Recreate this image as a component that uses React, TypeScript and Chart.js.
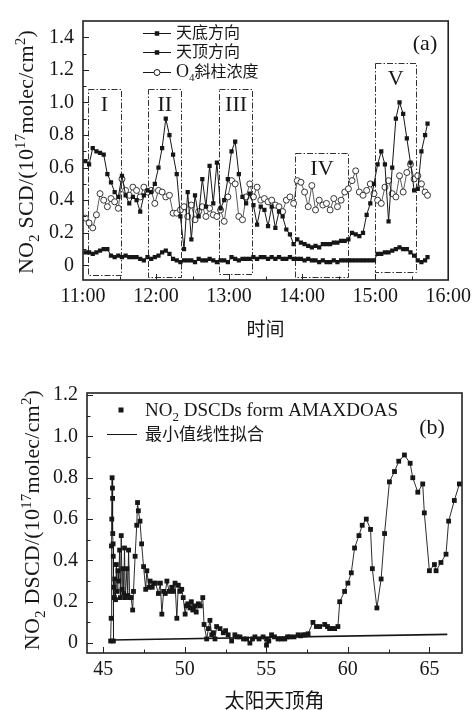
import React, { useEffect, useRef } from 'react';
import { Chart, registerables } from 'chart.js';
Chart.register(...registerables);

// ---------- Panel (a) data: minutes after 11:00 ----------
const timeMin = [
  2, 5, 8, 11, 14, 17, 20, 23, 26, 29,
  32, 35, 38, 41, 44, 47, 50, 53, 56, 59,
  62, 65, 68, 71, 74, 77, 80, 83, 86, 89,
  92, 95, 98, 101, 104, 107, 110, 113, 116, 119,
  122, 125, 128, 131, 134, 137, 140, 143, 146, 149,
  152, 155, 158, 161, 164, 167, 170, 173, 176, 179,
  182, 185, 188, 191, 194, 197, 200, 203, 206, 209,
  212, 215, 218, 221, 224, 227, 230, 233, 236, 239,
  242, 245, 248, 251, 254, 257, 260, 263, 266, 269,
  272, 275, 278, 281, 283,
];
// 天底方向 (nadir) NO2 SCD
const nadirSCD = [
  0.64, 0.62, 0.72, 0.70, 0.69, 0.68, 0.56, 0.51, 0.45, 0.42,
  0.55, 0.43, 0.38, 0.42, 0.40, 0.33, 0.43, 0.46, 0.45, 0.50,
  0.60, 0.72, 0.90, 0.80, 0.68, 0.56, 0.30, 0.10, 0.45, 0.16,
  0.43, 0.30, 0.53, 0.36, 0.61, 0.38, 0.63, 0.35, 0.40, 0.53,
  0.70, 0.76, 0.56, 0.42, 0.38, 0.44, 0.37, 0.25, 0.36, 0.34,
  0.24, 0.36, 0.23, 0.33, 0.30, 0.22, 0.19, 0.13, 0.16, 0.14,
  0.13, 0.12, 0.11, 0.12, 0.11, 0.13, 0.13, 0.13, 0.14, 0.14,
  0.15, 0.15, 0.16, 0.20, 0.19, 0.18, 0.20, 0.31, 0.38, 0.50,
  0.62, 0.70, 0.62, 0.27, 0.60, 0.90, 1.00, 0.93, 0.78, 0.63,
  0.46, 0.47, 0.70, 0.80, 0.87,
];
// 天顶方向 (zenith) NO2 SCD
const zenithSCD = [
  0.08, 0.08, 0.07, 0.08, 0.09, 0.10, 0.10, 0.06, 0.05, 0.06,
  0.05, 0.06, 0.05, 0.05, 0.05, 0.04, 0.03, 0.05, 0.04, 0.05,
  0.06, 0.08, 0.09, 0.07, 0.04, 0.03, 0.02, 0.03, 0.03, 0.03,
  0.02, 0.04, 0.03, 0.03, 0.04, 0.03, 0.02, 0.03, 0.03, 0.02,
  0.05, 0.04, 0.03, 0.04, 0.04, 0.04, 0.05, 0.04, 0.05, 0.05,
  0.04, 0.05, 0.04, 0.05, 0.04, 0.04, 0.05, 0.04, 0.04, 0.04,
  0.03, 0.04, 0.03, 0.03, 0.02, 0.03, 0.02, 0.02, 0.03, 0.02,
  0.03, 0.03, 0.03, 0.03, 0.03, 0.03, 0.03, 0.03, 0.03, 0.03,
  0.07, 0.07, 0.08, 0.08, 0.09, 0.10, 0.11, 0.10, 0.10, 0.08,
  0.06, 0.03, 0.02, 0.03, 0.05,
];
// O4 斜柱浓度
const o4SCD = [
  0.29, 0.26, 0.23, 0.31, 0.44, 0.40, 0.36, 0.41, 0.39, 0.35,
  0.53, 0.46, 0.43, 0.48, 0.46, 0.42, 0.48, 0.45, 0.46, 0.38,
  0.46, 0.45, 0.42, 0.43, 0.32, 0.32, 0.34, 0.36, 0.30, 0.37,
  0.28, 0.33, 0.36, 0.30, 0.35, 0.31, 0.30, 0.34, 0.27, 0.42,
  0.52, 0.50, 0.30, 0.28, 0.42, 0.50, 0.42, 0.48, 0.40, 0.41,
  0.39, 0.40, 0.37, 0.36, 0.33, 0.40, 0.42, 0.38, 0.52, 0.51,
  0.45, 0.36, 0.49, 0.34, 0.40, 0.37, 0.38, 0.34, 0.41, 0.36,
  0.40, 0.45, 0.47, 0.52, 0.58, 0.45, 0.43, 0.46, 0.50, 0.44,
  0.40, 0.38, 0.48, 0.52, 0.44, 0.42, 0.55, 0.45, 0.57, 0.62,
  0.53, 0.55, 0.50, 0.45, 0.43,
];
const xTicksA = [0, 60, 120, 180, 240, 300];
const xMinorA = [30, 90, 150, 210, 270];
const yTicksA = [0, 0.2, 0.4, 0.6, 0.8, 1.0, 1.2, 1.4];
const yMinorA = [0.1, 0.3, 0.5, 0.7, 0.9, 1.1, 1.3];
const boxLabels = ['I', 'II', 'III', 'IV', 'V'];
const boxStart = [4, 53.5, 112, 174.5, 240];
const boxEnd = [31, 81, 139.5, 218, 273.5];
const boxTop = [1.08, 1.08, 1.08, 0.69, 1.24];
const boxBottom = [-0.06, -0.072, -0.055, -0.072, -0.045];

// ---------- Panel (b) data ----------
const sza = [
  45.45, 45.48, 45.50, 45.52, 45.54, 45.56, 45.57, 45.58, 45.60, 45.61,
  45.62, 45.65, 45.68, 45.70, 45.75, 45.80, 45.85, 45.90, 45.95, 46.00,
  46.05, 46.10, 46.15, 46.20, 46.25, 46.30, 46.35, 46.45, 46.50, 46.55,
  46.62, 46.70, 46.80, 46.85, 46.95, 47.05, 47.10, 47.15, 47.25, 47.35,
  47.47, 47.60, 47.67, 47.80, 47.87, 48.00, 48.10, 48.20, 48.38, 48.50,
  48.59, 48.70, 48.80, 48.90, 49.04, 49.20, 49.30, 49.40, 49.51, 49.60,
  49.70, 49.81, 49.90, 50.02, 50.10, 50.18, 50.32, 50.40, 50.49, 50.60,
  50.70, 50.83, 50.95, 51.10, 51.18, 51.34, 51.45, 51.54, 51.65, 51.75,
  51.85, 51.95, 52.16, 52.36, 52.50, 52.66, 52.87, 53.07, 53.20, 53.38,
  53.60, 53.79, 53.99, 54.15, 54.30, 54.55, 54.80, 55.01, 55.05, 55.15,
  55.32, 55.50, 55.72, 55.90, 56.13, 56.30, 56.44, 56.70, 56.95, 57.10,
  57.25, 57.40, 57.56, 57.86, 58.07, 58.27, 58.58, 58.75, 58.88, 59.05,
  59.19, 59.39, 59.50, 59.80, 60.00, 60.21, 60.41, 60.68, 60.88, 61.13,
  61.39, 61.50, 61.78, 62.04, 62.25, 62.55, 62.86, 63.12, 63.47, 63.82,
  63.98, 64.29, 64.59, 64.69, 65.00, 65.31, 65.41, 65.71, 66.02, 66.18,
  66.53, 66.84,
];
const dscd = [
  0.01, 0.12, 0.47, 0.60, 0.80, 0.75, 0.70, 0.53, 0.48, 0.42,
  0.01, 0.27, 0.22, 0.31, 0.21, 0.38, 0.25, 0.35, 0.30, 0.45,
  0.22, 0.52, 0.26, 0.36, 0.24, 0.46, 0.22, 0.36, 0.23, 0.45,
  0.22, 0.22, 0.16, 0.25, 0.42, 0.57, 0.68, 0.64, 0.59, 0.48,
  0.37, 0.26, 0.35, 0.27, 0.30, 0.27, 0.29, 0.29, 0.24, 0.29,
  0.14, 0.25, 0.24, 0.30, 0.25, 0.27, 0.25, 0.29, 0.12, 0.28,
  0.25, 0.26, 0.22, 0.14, 0.18, 0.19, 0.17, 0.20, 0.16, 0.18,
  0.15, 0.19, 0.18, 0.22, 0.09, 0.02, 0.07, 0.11, 0.04, 0.05,
  0.02, 0.08, 0.07, 0.05, 0.06, 0.04, 0.01, 0.04, 0.03, 0.03,
  0.02, 0.02, 0.00, 0.02, 0.03, 0.02, 0.03, -0.01, 0.02, 0.01,
  0.04, 0.03, 0.02, 0.02, 0.02, 0.03, 0.03, 0.03, 0.04, 0.035,
  0.04, 0.04, 0.045, 0.10, 0.08, 0.08, 0.09, 0.08, 0.07, 0.07,
  0.07, 0.08, 0.20, 0.25, 0.29, 0.34, 0.46, 0.52, 0.57, 0.60,
  0.55, 0.36, 0.17, 0.31, 0.53, 0.78, 0.83, 0.88, 0.91, 0.87,
  0.80, 0.73, 0.77, 0.63, 0.35, 0.38, 0.35, 0.39, 0.43, 0.59,
  0.69, 0.77,
];
const fitSza = [45.5, 66.1];
const fitDscd = [0.015, 0.042];
const xTicksB = [45, 50, 55, 60, 65];
const xMinorB = [47.5, 52.5, 57.5, 62.5];
const yTicksB = [0, 0.2, 0.4, 0.6, 0.8, 1.0, 1.2];
const yMinorB = [0.1, 0.3, 0.5, 0.7, 0.9, 1.1];

// ---------- drawing helpers ----------
const SERIF = '"Liberation Serif", "Times New Roman", serif';
const CJK = '"Noto Sans CJK SC", sans-serif';
const INK = '#161616';

type Seg = { t: string; sub?: boolean; sup?: boolean; cjk?: boolean; size?: number };

function drawRich(ctx: CanvasRenderingContext2D, segs: Seg[], x: number, y: number, size: number,
  opts: { rotate?: boolean; align?: 'left' | 'center'; spacing?: number } = {}) {
  ctx.save();
  ctx.translate(x, y);
  if (opts.rotate) ctx.rotate(-Math.PI / 2);
  const small = Math.round(size * 0.68);
  const fontOf = (s: Seg) => `${s.sub || s.sup ? small : (s.size || size)}px ${s.cjk ? CJK : SERIF}`;
  (ctx as any).letterSpacing = `${opts.spacing || 0}px`;
  const widths = segs.map((s) => { ctx.font = fontOf(s); return ctx.measureText(s.t).width; });
  const total = widths.reduce((a, b) => a + b, 0);
  let cx = opts.align === 'left' ? 0 : -total / 2;
  ctx.textBaseline = 'alphabetic';
  ctx.textAlign = 'left';
  ctx.fillStyle = INK;
  segs.forEach((s, i) => {
    ctx.font = fontOf(s);
    const dy = s.sub ? size * 0.24 : s.sup ? -size * 0.4 : 0;
    ctx.fillText(s.t, cx, size * 0.34 + dy);
    cx += widths[i];
  });
  ctx.restore();
}

function drawFrameTicks(chart: any, xMaj: number[], xMin: number[], yMaj: number[], yMin: number[]) {
  const { ctx, chartArea: a } = chart;
  const xs = chart.scales.x, ys = chart.scales.y;
  ctx.save();
  ctx.strokeStyle = '#222';
  ctx.lineWidth = 1;
  ctx.beginPath();
  const xt = (v: number, len: number) => { const p = Math.round(xs.getPixelForValue(v)) + 0.5; if (p <= a.left + 1 || p >= a.right - 1) return; ctx.moveTo(p, a.bottom); ctx.lineTo(p, a.bottom - len); };
  const yt = (v: number, len: number) => { const p = Math.round(ys.getPixelForValue(v)) + 0.5; if (p <= a.top + 1 || p >= a.bottom - 1) return; ctx.moveTo(a.left, p); ctx.lineTo(a.left + len, p); };
  xMaj.forEach((v) => xt(v, 6));
  xMin.forEach((v) => xt(v, 3.5));
  yMaj.forEach((v) => yt(v, 6));
  yMin.forEach((v) => yt(v, 3.5));
  ctx.stroke();
  ctx.lineWidth = 1.6;
  ctx.strokeRect(a.left, a.top, a.right - a.left, a.bottom - a.top);
  ctx.restore();
}

function square(ctx: CanvasRenderingContext2D, x: number, y: number, s: number) {
  ctx.fillStyle = INK;
  ctx.fillRect(x - s / 2, y - s / 2, s, s);
}

const panelAPlugin = {
  id: 'panelA',
  beforeDatasetsDraw(chart: any) {
    const { ctx } = chart;
    const xs = chart.scales.x, ys = chart.scales.y;
    ctx.save();
    ctx.strokeStyle = '#333';
    ctx.lineWidth = 1;
    ctx.setLineDash([6, 2, 1.5, 2]);
    boxLabels.forEach((lab, i) => {
      const x0 = xs.getPixelForValue(boxStart[i]);
      const x1 = xs.getPixelForValue(boxEnd[i]);
      const y0 = ys.getPixelForValue(boxTop[i]);
      const y1 = ys.getPixelForValue(boxBottom[i]);
      ctx.strokeRect(Math.round(x0) + 0.5, Math.round(y0) + 0.5, Math.round(x1 - x0), Math.round(y1 - y0));
      ctx.font = `22px ${SERIF}`;
      ctx.fillStyle = INK;
      ctx.textAlign = 'center';
      ctx.textBaseline = 'middle';
      ctx.fillText(lab, (x0 + x1) / 2, y0 + 16);
    });
    ctx.restore();
  },
  afterDraw(chart: any) {
    const { ctx } = chart;
    drawFrameTicks(chart, xTicksA, xMinorA, yTicksA, yMinorA);
    // legend
    ctx.save();
    ctx.strokeStyle = INK;
    ctx.lineWidth = 1;
    const rows = [33, 52, 72];
    rows.forEach((ry, i) => {
      ctx.beginPath();
      ctx.moveTo(143, ry + 0.5);
      ctx.lineTo(171, ry + 0.5);
      ctx.stroke();
      if (i < 2) square(ctx, 157, ry + 0.5, 4.5);
      else {
        ctx.beginPath();
        ctx.arc(157, ry + 0.5, 3, 0, Math.PI * 2);
        ctx.fillStyle = '#fff';
        ctx.fill();
        ctx.stroke();
      }
    });
    ctx.restore();
    drawRich(ctx, [{ t: '天底方向', cjk: true }], 176, rows[0], 16, { align: 'left' });
    drawRich(ctx, [{ t: '天顶方向', cjk: true }], 176, rows[1], 16, { align: 'left' });
    drawRich(ctx, [{ t: 'O', size: 18 }, { t: '4', sub: true }, { t: '斜柱浓度', cjk: true }], 176, rows[2], 16, { align: 'left' });
    drawRich(ctx, [{ t: '(a)' }], 425, 43, 22);
    drawRich(ctx, [{ t: 'NO' }, { t: '2', sub: true }, { t: ' SCD/(10' }, { t: '17', sup: true }, { t: 'molec/cm' }, { t: '2', sup: true }, { t: ')' }],
      26, 152, 22, { rotate: true, spacing: 0.2 });
  },
};

const panelBPlugin = {
  id: 'panelB',
  afterDraw(chart: any) {
    const { ctx } = chart;
    drawFrameTicks(chart, xTicksB, xMinorB, yTicksB, yMinorB);
    square(ctx, 121, 60, 5);
    ctx.save();
    ctx.strokeStyle = INK;
    ctx.lineWidth = 1;
    ctx.beginPath();
    ctx.moveTo(107, 84.5);
    ctx.lineTo(137, 84.5);
    ctx.stroke();
    ctx.restore();
    drawRich(ctx, [{ t: 'NO' }, { t: '2', sub: true }, { t: ' DSCDs form AMAXDOAS' }], 145, 60, 19, { align: 'left' });
    drawRich(ctx, [{ t: '最小值线性拟合', cjk: true }], 145, 84, 17, { align: 'left' });
    drawRich(ctx, [{ t: '(b)' }], 432, 77, 22);
    drawRich(ctx, [{ t: 'NO' }, { t: '2', sub: true }, { t: ' DSCD/(10' }, { t: '17', sup: true }, { t: 'molec/cm' }, { t: '2', sup: true }, { t: ')' }],
      32, 170, 22, { rotate: true, spacing: 0.2 });
  },
};

const tickFont = { family: SERIF, size: 20 };
const fmtY = (v: any) => (Number(v) === 0 ? '0' : Number(v).toFixed(1));

function makeConfigA(): any {
  return {
    type: 'line',
    data: {
      datasets: [
        {
          label: '天底方向',
          data: timeMin.map((t, i) => ({ x: t, y: nadirSCD[i] })),
          borderColor: INK, borderWidth: 1, backgroundColor: INK,
          pointStyle: 'rect', pointRadius: 3, pointBorderWidth: 0, tension: 0, order: 1,
        },
        {
          label: '天顶方向',
          data: timeMin.map((t, i) => ({ x: t, y: zenithSCD[i] })),
          borderColor: INK, borderWidth: 1, backgroundColor: INK,
          pointStyle: 'rect', pointRadius: 3, pointBorderWidth: 0, tension: 0, order: 2,
        },
        {
          label: 'O4斜柱浓度',
          data: timeMin.map((t, i) => ({ x: t, y: o4SCD[i] })),
          borderColor: '#333', borderWidth: 0.8,
          pointStyle: 'circle', pointRadius: 3, pointBackgroundColor: '#fff',
          pointBorderColor: '#222', pointBorderWidth: 0.9, tension: 0, order: 3,
        },
      ],
    },
    options: {
      responsive: false, maintainAspectRatio: false, animation: false,
      layout: { padding: { top: 17, right: 22, left: 0, bottom: 0 } },
      plugins: { legend: { display: false }, tooltip: { enabled: false } },
      scales: {
        x: {
          type: 'linear', min: 0, max: 300,
          grid: { display: false, drawTicks: false }, border: { display: false },
          afterBuildTicks: (s: any) => { s.ticks = xTicksA.map((v) => ({ value: v })); },
          afterFit: (s: any) => { s.height = 70; },
          ticks: { padding: 5, font: tickFont, color: INK, maxRotation: 0, autoSkip: false,
            callback: (v: any) => `${11 + Number(v) / 60}:00` },
          title: { display: true, text: '时间', color: INK,
            font: { family: CJK, size: 19, lineHeight: 1.2 }, padding: { top: 0, bottom: 10 } },
        },
        y: {
          type: 'linear', min: -0.09, max: 1.5,
          grid: { display: false, drawTicks: false }, border: { display: false },
          afterBuildTicks: (s: any) => { s.ticks = yTicksA.map((v) => ({ value: v })); },
          afterFit: (s: any) => { s.width = 83; },
          ticks: { padding: 9, font: tickFont, color: INK, autoSkip: false, callback: fmtY },
        },
      },
    },
    plugins: [panelAPlugin],
  };
}

function makeConfigB(): any {
  return {
    type: 'line',
    data: {
      datasets: [
        {
          label: 'NO2 DSCDs form AMAXDOAS',
          data: sza.map((z, i) => ({ x: z, y: dscd[i] })),
          borderColor: INK, borderWidth: 0.9, backgroundColor: INK,
          pointStyle: 'rect', pointRadius: 3.4, pointBorderWidth: 0, tension: 0, order: 1,
        },
        {
          label: '最小值线性拟合',
          data: fitSza.map((z, i) => ({ x: z, y: fitDscd[i] })),
          borderColor: INK, borderWidth: 1.6, pointRadius: 0, tension: 0, order: 2,
        },
      ],
    },
    options: {
      responsive: false, maintainAspectRatio: false, animation: false,
      layout: { padding: { top: 43, right: 14, left: 0, bottom: 0 } },
      plugins: { legend: { display: false }, tooltip: { enabled: false } },
      scales: {
        x: {
          type: 'linear', min: 44, max: 67,
          grid: { display: false, drawTicks: false }, border: { display: false },
          afterBuildTicks: (s: any) => { s.ticks = xTicksB.map((v) => ({ value: v })); },
          afterFit: (s: any) => { s.height = 57; },
          ticks: { padding: 5, font: tickFont, color: INK, maxRotation: 0, autoSkip: false,
            callback: (v: any) => `${v}` },
          title: { display: true, text: '太阳天顶角', color: INK,
            font: { family: CJK, size: 20, lineHeight: 1.0 }, padding: { top: 0, bottom: 0 } },
        },
        y: {
          type: 'linear', min: -0.048, max: 1.21,
          grid: { display: false, drawTicks: false }, border: { display: false },
          afterBuildTicks: (s: any) => { s.ticks = yTicksB.map((v) => ({ value: v })); },
          afterFit: (s: any) => { s.width = 87; },
          ticks: { padding: 9, font: tickFont, color: INK, autoSkip: false, callback: fmtY },
        },
      },
    },
    plugins: [panelBPlugin],
  };
}

export default function App() {
  const refA = useRef<HTMLCanvasElement>(null);
  const refB = useRef<HTMLCanvasElement>(null);
  useEffect(() => {
    const a = new Chart(refA.current as HTMLCanvasElement, makeConfigA());
    const b = new Chart(refB.current as HTMLCanvasElement, makeConfigB());
    return () => { a.destroy(); b.destroy(); };
  }, []);
  return (
    <div style={{ position: 'absolute', left: 0, top: 0, width: 476, height: 710, background: '#fff' }}>
      <canvas ref={refA} width={476} height={350} style={{ position: 'absolute', left: 0, top: 0, width: 476, height: 350 }} />
      <canvas ref={refB} width={476} height={360} style={{ position: 'absolute', left: 0, top: 350, width: 476, height: 360 }} />
    </div>
  );
}
